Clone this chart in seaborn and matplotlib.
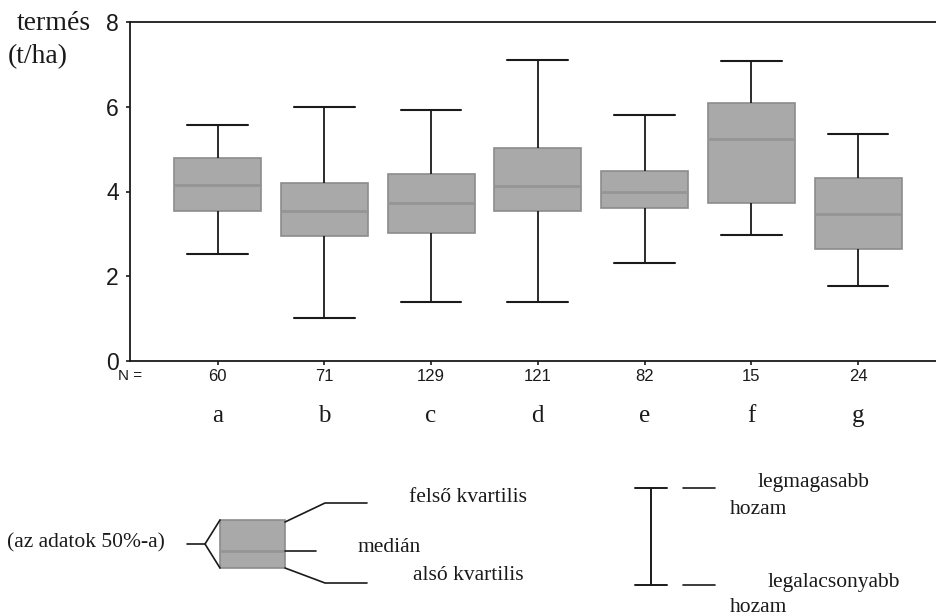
import numpy as np
import pandas as pd
import matplotlib
matplotlib.use("Agg")
import matplotlib.pyplot as plt
import seaborn as sns
from matplotlib.patches import Rectangle
from matplotlib.transforms import blended_transform_factory

# -----------------------------
# data (five-number summary per group)
# -----------------------------
groups = ["a", "b", "c", "d", "e", "f", "g"]
counts = [60, 71, 129, 121, 82, 15, 24]
lowest = [2.52, 1.01, 1.39, 1.39, 2.31, 2.98, 1.77]
q1 = [3.55, 2.94, 3.03, 3.55, 3.60, 3.72, 2.65]
median = [4.16, 3.53, 3.74, 4.14, 4.00, 5.25, 3.47]
q3 = [4.80, 4.21, 4.42, 5.03, 4.49, 6.09, 4.33]
highest = [5.58, 6.00, 5.93, 7.11, 5.81, 7.08, 5.36]

rows = []
for i, g in enumerate(groups):
    for v in (lowest[i], q1[i], median[i], q3[i], highest[i]):
        rows.append({"csoport": g, "termes": v})
df = pd.DataFrame(rows)

sns.set_style("white")
plt.rcParams["font.family"] = ["Liberation Serif", "DejaVu Serif"]

fig = plt.figure(figsize=(9.37, 6.16), dpi=100)
ax = fig.add_axes([130 / 937, 1 - 361 / 616, 807 / 937, 339 / 616])

box_gray = "#a9a9a9"
sns.boxplot(data=df, x="csoport", y="termes", order=groups, ax=ax,
            whis=(0, 100), width=0.815, color=box_gray, saturation=1,
            linecolor="#1a1a1a", linewidth=1.4, fliersize=0,
            capwidths=0.57,
            boxprops={"facecolor": box_gray, "edgecolor": "#8c8c8c", "linewidth": 1.2},
            medianprops={"color": "#959595", "linewidth": 2.0},
            whiskerprops={"color": "#1a1a1a", "linewidth": 1.3},
            capprops={"color": "#1a1a1a", "linewidth": 1.5})

ax.set_ylim(0, 8)
ax.set_xlim(-0.82, 6.74)
ax.set_yticks([0, 2, 4, 6, 8])
ax.set_xticks(range(len(groups)))
ax.set_xticklabels([str(c) for c in counts])
ax.set_xlabel("")
ax.set_ylabel("")

for side in ["left", "bottom", "top"]:
    ax.spines[side].set_visible(True)
    ax.spines[side].set_color("#1a1a1a")
    ax.spines[side].set_linewidth(1.3)
ax.spines["right"].set_visible(False)

ax.tick_params(axis="y", direction="out", length=3, width=1.2, pad=5,
               left=True, labelsize=16.5, colors="#1a1a1a")
ax.tick_params(axis="x", direction="out", length=3, width=1.2, pad=3,
               bottom=True, labelsize=12, colors="#1a1a1a")
for lab in ax.get_yticklabels() + ax.get_xticklabels():
    lab.set_family("Liberation Sans")

# group letters under the counts
trans = blended_transform_factory(ax.transData, ax.transAxes)
for i, g in enumerate(groups):
    ax.text(i, -0.18, g, transform=trans, ha="center", va="baseline",
            fontsize=18, color="#1a1a1a")

# -----------------------------
# overlay in pixel units for the labels and the key
# -----------------------------
ov = fig.add_axes([0, 0, 1, 1], zorder=5)
ov.set_xlim(0, 937)
ov.set_ylim(616, 0)
ov.axis("off")
ov.patch.set_alpha(0)

ink = "#1a1a1a"
ov.text(118, 376, "N =", ha="left", va="center", fontsize=11,
        family="Liberation Sans", color=ink)
ov.text(17, 24, "termés", ha="left", va="center", fontsize=20, color=ink)
ov.text(8, 57, "(t/ha)", ha="left", va="center", fontsize=20, color=ink)

# box key
ov.text(7, 543, "(az adatok 50%-a)", ha="left", va="center", fontsize=15.5, color=ink)
ov.plot([187, 205], [544, 544], color=ink, lw=1.2)
ov.plot([220, 205, 220], [520, 544, 568], color=ink, lw=1.2)
ov.add_patch(Rectangle((220, 520), 65, 48, facecolor=box_gray,
                       edgecolor="#8c8c8c", lw=1.2))
ov.plot([221, 284], [551, 551], color="#959595", lw=2.0)
ov.plot([285, 325, 367], [522, 503, 503], color=ink, lw=1.2)
ov.plot([285, 316], [551, 551], color=ink, lw=1.2)
ov.plot([285, 325, 367], [568, 583, 583], color=ink, lw=1.2)
ov.text(409, 497, "felső kvartilis", ha="left", va="center", fontsize=15.5, color=ink)
ov.text(358, 548, "medián", ha="left", va="center", fontsize=15.5, color=ink)
ov.text(413, 576, "alsó kvartilis", ha="left", va="center", fontsize=15.5, color=ink)

# whisker key
ov.plot([651, 651], [488, 585], color=ink, lw=1.4)
ov.plot([635, 667], [488, 488], color=ink, lw=1.4)
ov.plot([635, 667], [585, 585], color=ink, lw=1.4)
ov.plot([683, 715], [488, 488], color=ink, lw=1.2)
ov.plot([683, 715], [585, 585], color=ink, lw=1.2)
ov.text(758, 482, "legmagasabb", ha="left", va="center", fontsize=15.5, color=ink)
ov.text(730, 510, "hozam", ha="left", va="center", fontsize=15.5, color=ink)
ov.text(768, 582, "legalacsonyabb", ha="left", va="center", fontsize=15.5, color=ink)
ov.text(730, 608, "hozam", ha="left", va="center", fontsize=15.5, color=ink)

fig.savefig("out.png", dpi=100, facecolor="white")
